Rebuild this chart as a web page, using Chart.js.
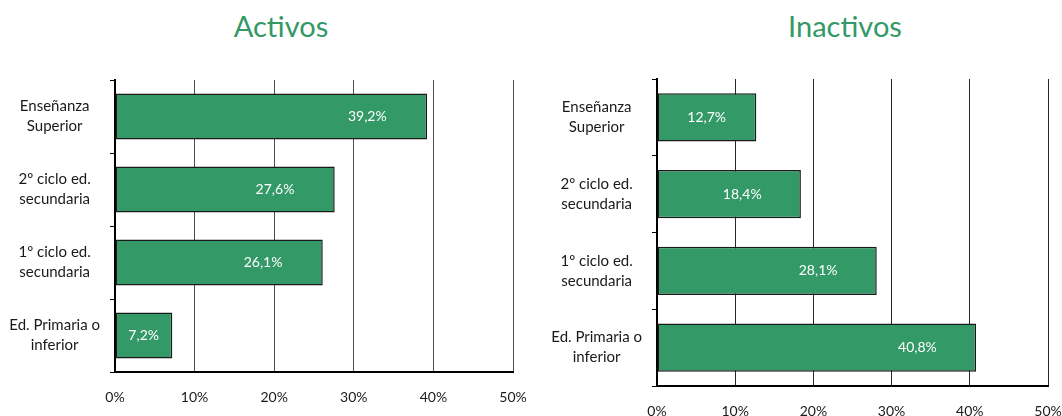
<!DOCTYPE html>
<html>
<head>
<meta charset="utf-8">
<script src="https://cdn.jsdelivr.net/npm/chart.js@4/dist/chart.umd.min.js"></script>
<style>
  html, body { margin: 0; padding: 0; background: #fff; overflow: hidden; }
  body { width: 1062px; height: 416px; position: relative; }
  .box { position: absolute; top: 0; }
  .title {
    position: absolute; top: 8px; width: 300px; margin-left: -150px;
    text-align: center; font-family: Lato, 'Open Sans', sans-serif;
    font-size: 29px; line-height: 35px; color: #339966;
  }
</style>
</head>
<body>
<div class="title" style="left:281px">Activos</div>
<div class="title" style="left:845px">Inactivos</div>
<div class="box" style="left:0px;width:531px;height:416px"><canvas id="activos"></canvas></div>
<div class="box" style="left:540px;width:560px;height:440px"><canvas id="inactivos"></canvas></div>

<script>
// data (percent)
const categories = [
  ['Enseñanza', 'Superior'],
  ['2º ciclo ed.', 'secundaria'],
  ['1º ciclo ed.', 'secundaria'],
  ['Ed. Primaria o', 'inferior']
];
const activos = [39.2, 27.6, 26.1, 7.2];
const inactivos = [12.7, 18.4, 28.1, 40.8];
const xTicks = [0, 10, 20, 30, 40, 50];

Chart.defaults.font.family = "Lato, 'Open Sans', sans-serif";
Chart.defaults.font.size = 14;
Chart.defaults.color = '#1a1a1a';

// spanish style number: 39,2%
const fmt = v => v.toFixed(1).replace('.', ',') + '%';

// white labels inside the bars, sitting a bit in from the end
const valueLabels = {
  id: 'valueLabels',
  afterDatasetsDraw(chart) {
    const ctx = chart.ctx;
    const xs = chart.scales.x;
    const vals = chart.data.datasets[0].data;
    ctx.save();
    ctx.fillStyle = '#fff';
    ctx.font = "14px Lato, 'Open Sans', sans-serif";
    ctx.textAlign = 'center';
    ctx.textBaseline = 'middle';
    chart.getDatasetMeta(0).data.forEach((bar, i) => {
      const v = vals[i];
      const at = Math.max(v - 7.5, v / 2);
      ctx.fillText(fmt(v), xs.getPixelForValue(at), bar.y);
    });
    ctx.restore();
  }
};

function makeChart(id, values, pad, yWidth, xHeight, gridColor) {
  return new Chart(document.getElementById(id), {
    type: 'bar',
    data: {
      labels: categories,
      datasets: [{
        data: values,
        backgroundColor: '#339966',
        borderColor: '#1a1a1a',
        borderWidth: 1.5,
        borderSkipped: false,
        barPercentage: 0.63,
        categoryPercentage: 1
      }]
    },
    options: {
      indexAxis: 'y',
      responsive: true,
      maintainAspectRatio: false,
      animation: false,
      layout: { padding: pad },
      plugins: { legend: { display: false }, tooltip: { enabled: false } },
      scales: {
        x: {
          min: xTicks[0],
          max: xTicks[xTicks.length - 1],
          afterBuildTicks: s => { s.ticks = xTicks.map(v => ({ value: v })); },
          ticks: { callback: v => v + '%', padding: 17, maxRotation: 0 },
          grid: { color: gridColor, lineWidth: 1, drawTicks: false },
          border: { color: '#000', width: 2 },
          // fixed height, and no extra room for the end labels
          afterFit: s => { s.height = xHeight; s.paddingLeft = 0; s.paddingRight = 0; }
        },
        y: {
          ticks: { crossAlign: 'center', padding: 10, font: { size: 15, lineHeight: 1.33 } },
          grid: { drawOnChartArea: false, drawTicks: true, tickLength: 5, color: '#000', offset: true },
          border: { color: '#000', width: 2 },
          afterFit: s => { s.width = yWidth; }
        }
      }
    },
    plugins: [valueLabels]
  });
}

makeChart('activos', activos, { left: 0, right: 18, top: 80, bottom: 0 }, 115, 44, '#4d4d4d');
makeChart('inactivos', inactivos, { left: 0, right: 52, top: 79, bottom: 0 }, 117, 54, '#262626');
</script>
</body>
</html>
